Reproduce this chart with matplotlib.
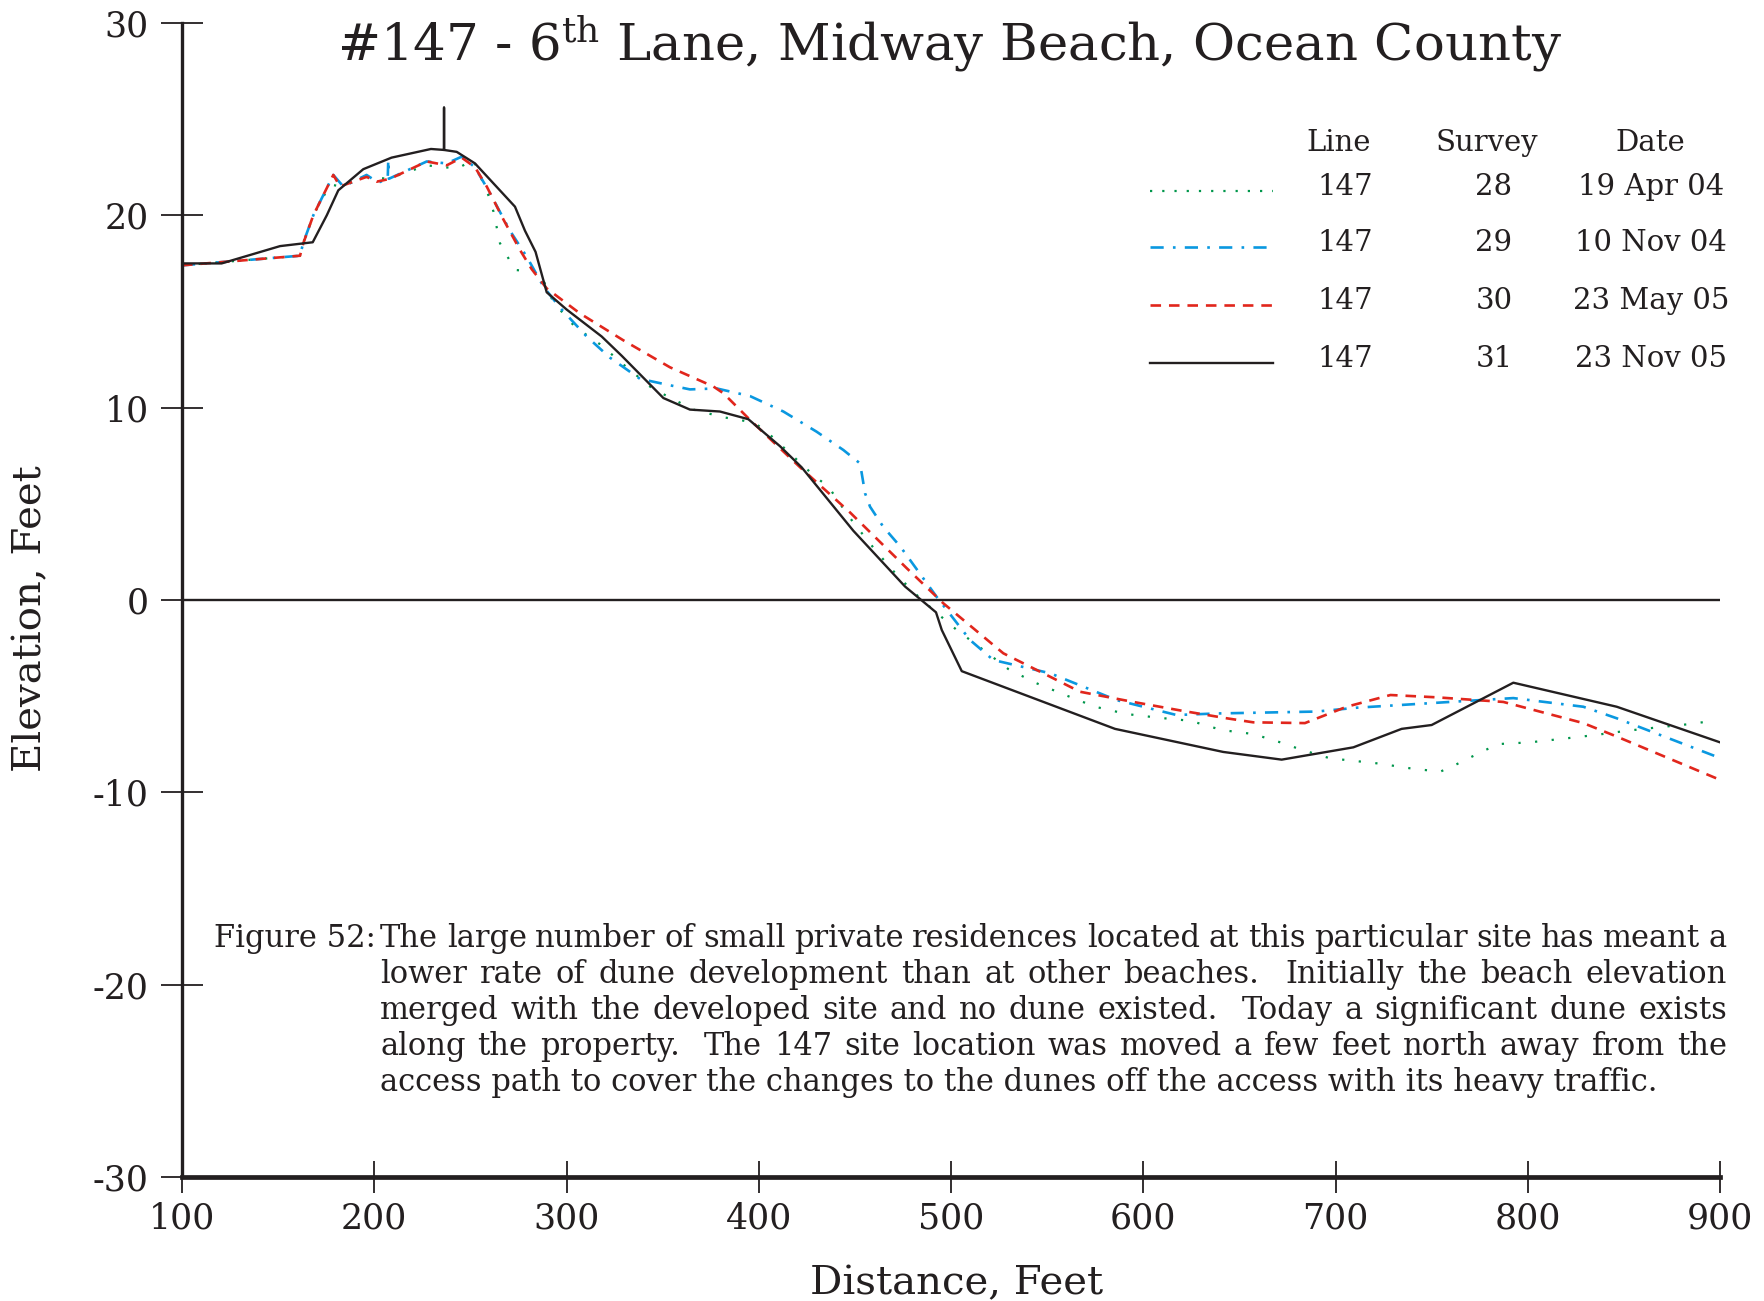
import numpy as np
import matplotlib
matplotlib.use('Agg')
from matplotlib import pyplot as plt
from matplotlib.lines import Line2D

plt.rcParams['font.family'] = 'DejaVu Serif'
plt.rcParams['mathtext.fontset'] = 'dejavuserif'
plt.rcParams['axes.unicode_minus'] = False

INK = '#231f20'
W, H = 1764, 1301

# survey 28 - 19 Apr 04 (green dotted)
x28 = [100, 161.4, 163, 168.3, 177, 183, 196, 207.3, 227.3, 236, 243.7, 251.5, 259.3, 262, 265.4, 273.2,
       280.1, 286.2, 293.1, 304.4, 317.4, 331.3, 343.4, 351.2, 366, 381.6, 390.3, 398, 405, 429.3, 436.2,
       445.7, 451, 461.4, 472.7, 483.9, 496.9, 503, 516.9, 529.8, 543.8, 559.4, 575, 591.4, 607.8, 624.5,
       640.8, 657.3, 672.9, 681.5, 697.1, 722.3, 738.8, 754.4, 762.2, 776.9, 784.8, 801.2, 818.6, 835.1,
       851.5, 867.8, 884.4, 895]
y28 = [17.4, 17.9, 18.55, 20.0, 21.6, 21.5, 22.0, 21.9, 22.6, 22.5, 22.45, 22.9, 21.06, 20.2, 18.55, 17.16,
       17.1, 17.0, 15.5, 14.2, 13.3, 12.1, 11.1, 10.66, 9.9, 9.5, 9.36, 9.2, 8.67, 6.41, 5.9,
       4.5, 3.8, 2.5, 1.2, 0.09, -1.04, -1.56, -2.6, -3.59, -4.3, -4.94, -5.55, -5.93, -6.12, -6.28,
       -6.76, -6.97, -7.45, -7.76, -8.23, -8.5, -8.75, -8.93, -8.58, -7.85, -7.49, -7.4, -7.21, -7.02,
       -6.8, -6.62, -6.45, -6.3]

# survey 29 - 10 Nov 04 (blue dash-dot)
x29 = [100, 161.4, 163, 168.3, 178.7, 183.9, 196, 202.1, 207, 207.3, 207.6, 227.3, 237.7, 245.5, 252.4,
       260.2, 270.6, 279.3, 288, 296.6, 310.5, 322.6, 338.2, 352.1, 364.2, 378.1, 395.5, 412.8, 430.1, 444,
       452.7, 455.3, 457.9, 464.8, 473.7, 492.5, 509.9, 522, 551.6, 586, 617.3, 638.1, 690.2, 711, 759.6,
       792.5, 828.9, 846.3, 898.3, 900]
y29 = [17.4, 17.9, 18.55, 20.0, 22.1, 21.5, 22.1, 21.7, 21.9, 22.9, 21.9, 22.8, 22.7, 23.05, 22.5,
       21.15, 19.2, 17.85, 16.3, 15.2, 13.7, 12.6, 11.5, 11.2, 10.95, 11.0, 10.6, 9.8, 8.75, 7.8,
       7.1, 5.55, 4.85, 3.8, 2.77, 0.17, -2.08, -3.12, -3.81, -5.2, -5.98, -5.9, -5.8, -5.6, -5.3,
       -5.1, -5.55, -6.15, -8.15, -8.25]

# survey 30 - 23 May 05 (red dashed)
x30 = [100, 161.4, 163.1, 168.3, 178.7, 182.2, 196, 201.3, 208.2, 227.3, 237.7, 245.5, 252.4, 258.5,
       267.1, 275.8, 281.9, 289.7, 307, 329.6, 353.8, 376.4, 381.6, 391.1, 395.5, 421.5, 447.5, 477, 496,
       527.2, 544.6, 567.1, 594.8, 620.8, 643.4, 657.2, 684.1, 705.8, 728.6, 752.6, 787.3, 828.9, 846.3, 900]
y30 = [17.4, 17.9, 18.55, 20.0, 22.1, 21.5, 22.0, 21.75, 21.9, 22.8, 22.6, 23.0, 22.5, 21.5,
       19.8, 18.2, 17.2, 16.2, 14.9, 13.5, 12.1, 11.1, 10.75, 9.8, 9.36, 6.9, 4.55, 1.65, -0.17,
       -2.77, -3.64, -4.77, -5.3, -5.77, -6.15, -6.36, -6.4, -5.55, -4.94, -5.06, -5.3, -6.4, -7.1, -9.35]

# survey 31 - 23 Nov 05 (black solid), includes the monument post at ~236 ft
x31 = [100, 120.6, 151, 168, 175.3, 181.3, 194.3, 209, 229.5, 236.3, 236.3, 236.3, 242.9, 252.4, 273.2,
       278.4, 283.9, 289.7, 300.1, 318.3, 328.7, 350.4, 364.2, 379.8, 394.6, 411, 422.3, 449.2, 476.1,
       492.2, 495.2, 505.6, 585.3, 641.6, 672, 709.3, 734.4, 750, 792.5, 846.3, 891.3, 900]
y31 = [17.5, 17.5, 18.4, 18.6, 20.0, 21.3, 22.4, 23.0, 23.45, 23.4, 25.6, 23.4, 23.3, 22.7, 20.45,
       19.2, 18.1, 16.0, 15.1, 13.7, 12.7, 10.5, 9.9, 9.8, 9.4, 8.0, 6.9, 3.6, 0.7,
       -0.64, -1.56, -3.7, -6.7, -7.9, -8.3, -7.66, -6.7, -6.5, -4.3, -5.55, -7.1, -7.4]

lines_ = ['147', '147', '147', '147']
surveys = ['28', '29', '30', '31']
dates = ['19 Apr 04', '10 Nov 04', '23 May 05', '23 Nov 05']
xticks = [100, 200, 300, 400, 500, 600, 700, 800, 900]
yticks = [-30, -20, -10, 0, 10, 20, 30]

caption = [
    "The large number of small private residences located at this particular site has meant a",
    "lower rate of dune development than at other beaches.  Initially the beach elevation",
    "merged with the developed site and no dune existed.  Today a significant dune exists",
    "along the property.  The 147 site location was moved a few feet north away from the",
    "access path to cover the changes to the dunes off the access with its heavy traffic.",
]

styles = [
    dict(color='#00964b', lw=1.6, ls=(0, (1, 6.5))),
    dict(color='#0a98e0', lw=1.9, ls=(0, (5, 3.5, 1, 3.5))),
    dict(color='#e1261c', lw=1.9, ls=(0, (4, 3))),
    dict(color=INK, lw=1.7, ls='-'),
]

fig = plt.figure(figsize=(W / 100, H / 100), dpi=100)
ax = fig.add_axes([182 / W, 124 / H, (1720 - 182) / W, (1177 - 23) / H])

for xs, ys, st in zip([x28, x29, x30, x31], [y28, y29, y30, y31], styles):
    ax.plot(xs, ys, **st)

ax.axhline(0, color=INK, lw=1.7)
ax.set_xlim(100, 900)
ax.set_ylim(-30, 30)
ax.set_xticks(xticks)
ax.set_yticks(yticks)
ax.spines['top'].set_visible(False)
ax.spines['right'].set_visible(False)
ax.spines['left'].set_linewidth(2.4)
ax.spines['bottom'].set_linewidth(3.4)
ax.spines['left'].set_color(INK)
ax.spines['bottom'].set_color(INK)
ax.tick_params(axis='y', direction='inout', length=30, width=1.3, pad=9, colors=INK, labelsize=25)
ax.tick_params(axis='x', direction='inout', length=23, width=1.3, pad=6, colors=INK, labelsize=25)

def fx(px):
    return px / W

def fy(py):
    return 1 - py / H

fig.text(fx(949), fy(61), r"#147 - 6$^{\mathrm{th}}$ Lane, Midway Beach, Ocean County",
         ha='center', va='baseline', fontsize=37, color=INK)
fig.text(fx(31), fy(619), "Elevation, Feet", rotation=90, ha='center', va='center',
         fontsize=29, color=INK)
fig.text(fx(957), fy(1294), "Distance, Feet", ha='center', va='baseline', fontsize=29, color=INK)

# legend table
fig.text(fx(1339), fy(143), "Line", ha='center', va='center', fontsize=21, color=INK)
fig.text(fx(1487), fy(143), "Survey", ha='center', va='center', fontsize=21, color=INK)
fig.text(fx(1650), fy(143), "Date", ha='center', va='center', fontsize=21, color=INK)
rows = [187, 243, 301, 359]
for r, ln, sv, dt, st in zip(rows, lines_, surveys, dates, styles):
    ls = (0, (1, 4.5)) if st['ls'] == (0, (1, 6.5)) else st['ls']
    fig.add_artist(Line2D([fx(1150), fx(1273)], [fy(r + 4), fy(r + 4)], transform=fig.transFigure,
                          color=st['color'], lw=st['lw'], ls=ls))
    fig.text(fx(1345), fy(r), ln, ha='center', va='center', fontsize=21, color=INK)
    fig.text(fx(1494), fy(r), sv, ha='center', va='center', fontsize=21, color=INK)
    fig.text(fx(1651), fy(r), dt, ha='center', va='center', fontsize=21, color=INK)

# caption, justified
cap_size = 22
renderer = fig.canvas.get_renderer()

def text_width(s):
    t = fig.text(0, 0, s, fontsize=cap_size)
    w = t.get_window_extent(renderer).width
    t.remove()
    return w

left, right = 380, 1727
fig.text(fx(376), fy(947), "Figure 52:", ha='right', va='baseline', fontsize=cap_size, color=INK)
for i, line in enumerate(caption):
    base = 947 + 36 * i
    if i == len(caption) - 1:
        fig.text(fx(left), fy(base), line, ha='left', va='baseline', fontsize=cap_size, color=INK)
        continue
    tokens = line.split(' ')
    widths = [text_width(t) if t else 0 for t in tokens]
    gap = (right - left - sum(widths)) / (len(tokens) - 1)
    x = left
    for t, w in zip(tokens, widths):
        if t:
            fig.text(fx(x), fy(base), t, ha='left', va='baseline', fontsize=cap_size, color=INK)
        x += w + gap

fig.savefig('out.png', dpi=100)
